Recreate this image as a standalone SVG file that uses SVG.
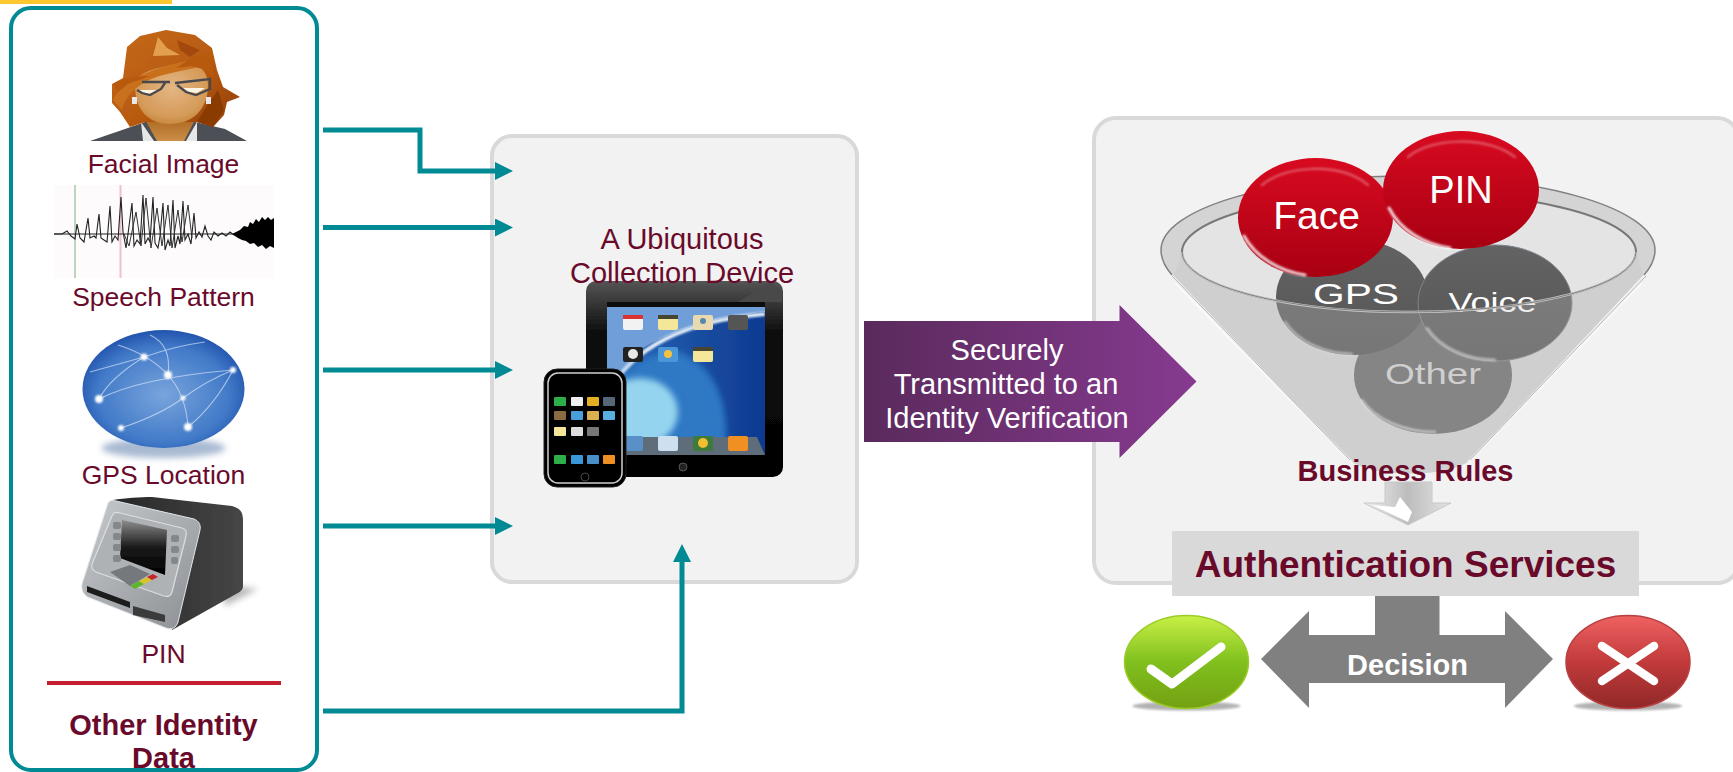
<svg xmlns="http://www.w3.org/2000/svg" width="1733" height="772" viewBox="0 0 1733 772">
<style>
text{font-family:"Liberation Sans",Arial,sans-serif;text-anchor:middle}
.m{fill:#6a0a2b;font-size:26.5px}
.b{fill:#6a0a2b;font-weight:bold;font-size:29px}
.w{fill:#fff}
.panel{fill:#f2f2f2;stroke:#d9d9d9;stroke-width:4}
.conn{fill:none;stroke:#008a93;stroke-width:5}
.soft{filter:url(#s1)}
.blur{filter:url(#s3)}
.gb{filter:url(#s15)}
.gloss{fill:none;stroke:#fff;stroke-linecap:round}
</style>
<defs>
<filter id="s1" x="-5%" y="-5%" width="110%" height="110%"><feGaussianBlur stdDeviation="0.7"/></filter>
<filter id="s15" x="-20%" y="-20%" width="140%" height="140%"><feGaussianBlur stdDeviation="1.300"/></filter>
<filter id="s3" x="-30%" y="-30%" width="160%" height="160%"><feGaussianBlur stdDeviation="3"/></filter>
<marker id="ah" markerUnits="userSpaceOnUse" markerWidth="18" markerHeight="18" refX="0" refY="9" orient="auto"><path d="M0 0L18 9L0 18Z" fill="#008a93"/></marker>
<linearGradient id="pur" x1="0" x2="1" y1="0" y2="0"><stop offset="0" stop-color="#5a2a5c"/><stop offset="1" stop-color="#873a90"/></linearGradient>
<linearGradient id="red" x1="0" x2="0" y1="0" y2="1"><stop offset="0" stop-color="#d80a20"/><stop offset="1" stop-color="#a80012"/></linearGradient>
<linearGradient id="gray" x1="0" x2="0" y1="0" y2="1"><stop offset="0" stop-color="#636363"/><stop offset="1" stop-color="#555"/></linearGradient>
<linearGradient id="grn" x1="0" x2="0" y1="0" y2="1"><stop offset="0" stop-color="#c8f045"/><stop offset=".5" stop-color="#80c01e"/><stop offset="1" stop-color="#73a012"/></linearGradient>
<linearGradient id="rd2" x1="0" x2="0" y1="0" y2="1"><stop offset="0" stop-color="#ef6262"/><stop offset=".5" stop-color="#c23a3a"/><stop offset="1" stop-color="#902828"/></linearGradient>
<linearGradient id="hair" x1="0" x2="1" y1="0" y2="1"><stop offset="0" stop-color="#c46a1c"/><stop offset=".55" stop-color="#b85a10"/><stop offset="1" stop-color="#8f3e08"/></linearGradient>
<radialGradient id="skin" cx=".5" cy=".4" r=".65"><stop offset="0" stop-color="#e4b684"/><stop offset=".75" stop-color="#d49a58"/><stop offset="1" stop-color="#c48236"/></radialGradient>
<linearGradient id="neck" x1="0" x2="0" y1="0" y2="1"><stop offset="0" stop-color="#a8641c"/><stop offset="1" stop-color="#cc8e48"/></linearGradient>
<radialGradient id="globe" cx=".5" cy=".55" r=".58"><stop offset="0" stop-color="#78a4dc"/><stop offset=".7" stop-color="#427ac8"/><stop offset=".93" stop-color="#2457b0"/><stop offset="1" stop-color="#123a90"/></radialGradient>
<linearGradient id="atmd" x1="0" x2="1" y1="0" y2="0"><stop offset="0" stop-color="#262727"/><stop offset="1" stop-color="#464646"/></linearGradient>
<linearGradient id="atmf" x1="0" x2="1" y1="0" y2="1"><stop offset="0" stop-color="#c6cacd"/><stop offset="1" stop-color="#8c9094"/></linearGradient>
<linearGradient id="scr" x1="0" x2="0" y1="0" y2="1"><stop offset="0" stop-color="#8d8d8d"/><stop offset=".5" stop-color="#1a1a1a"/><stop offset="1" stop-color="#000"/></linearGradient>
<linearGradient id="ipad" x1="0" x2="0" y1="0" y2="1"><stop offset="0" stop-color="#555"/><stop offset=".25" stop-color="#111"/><stop offset="1" stop-color="#000"/></linearGradient>
<linearGradient id="sea" x1="0" x2="1" y1="0" y2="0"><stop offset="0" stop-color="#2a68b8"/><stop offset="1" stop-color="#0c3a90"/></linearGradient>
<linearGradient id="dn" x1="0" x2="1" y1="0" y2="0"><stop offset="0" stop-color="#f0f0f0"/><stop offset=".5" stop-color="#bdbdbd"/><stop offset="1" stop-color="#e4e4e4"/></linearGradient>
<clipPath id="clipScr"><rect x="607" y="302" width="158" height="153"/></clipPath>
</defs>

<rect id="topbar" x="0" y="0" width="172" height="4" fill="#fdc82f"/>

<g id="source-panel">
<rect x="11" y="8" width="306" height="762" rx="20" fill="#fff" stroke="#008a93" stroke-width="4"/>
</g>

<g id="collection-panel">
<rect class="panel" x="492" y="136" width="365" height="446" rx="20"/>
</g>
<g id="verification-panel">
<rect class="panel" x="1094" y="118" width="645" height="465" rx="22"/>
</g>

<g id="connectors">
<path class="conn" marker-end="url(#ah)" d="M323 130H420V171H495"/>
<path class="conn" marker-end="url(#ah)" d="M323 227.500H495"/>
<path class="conn" marker-end="url(#ah)" d="M323 370H495"/>
<path class="conn" marker-end="url(#ah)" d="M323 526H495"/>
<path class="conn" marker-end="url(#ah)" d="M323 711H682V562"/>
</g>

<g id="facial-image">
<g class="soft">
<path d="M90 141L125 129L145 122H195L225 129L247 141Z" fill="#4d5056"/>
<path d="M141 122L154 141H143ZM197 122L186 141H197Z" fill="#e6e6e6"/>
<path d="M143 116H197L184 141H157Z" fill="url(#neck)"/>
<path d="M127 47L140 36L166 30L195 35L212 48L217 70L223 87L240 97L227 102L224 115L213 127L197 122H145L130 127L120 112L112 103V84L123 78Z" fill="url(#hair)"/>
<path d="M135 85C135 112 150 124 170 124C192 124 208 110 208 85C208 72 200 64 188 64C170 64 135 70 135 85Z" fill="url(#skin)"/>
<path d="M113 100C120 84 150 66 194 60L204 66C176 72 152 76 142 84C130 92 124 100 122 110Z" fill="#c9701f"/>
<path d="M113 84C122 78 136 76 150 76L128 84L118 92Z" fill="#b85a10"/>
<path d="M158 37L167 48L180 55L153 56Z" fill="#e2a050"/>
<path d="M177 40L200 50L190 57L180 50Z" fill="#a34a08"/>
<path d="M176 68L196 55L210 58L214 78L206 70L192 66Z" fill="#b85a10"/>
<path d="M197 122L208 104L218 90L224 110L213 127Z" fill="#8a3a06"/>
<path d="M139 90H160L151 94L143 93ZM183 88H205L197 93L189 92Z" fill="#fbf3e4"/>
<path d="M142 82H170M175 83L210 79V89L196 95L186 92L177 85M165 83L161 89L150 95L142 93L137 90" fill="none" stroke="#4a4a4e" stroke-width="2.300"/>
<rect x="132" y="97" width="5" height="7" fill="#e8e8e8"/><rect x="206" y="97" width="5" height="7" fill="#e8e8e8"/>
</g>
<text class="m" x="163.500" y="173">Facial Image</text>
</g>

<g id="speech-pattern">
<rect x="54" y="185" width="220" height="93" fill="#fdfbfb"/>
<path d="M75 185V278" stroke="#a8c8a8" stroke-width="1.500"/>
<path d="M120.500 185V278" stroke="#f0c0cc" stroke-width="2"/>
<g>
<path fill="none" stroke="#222" stroke-width="1.100" d="M54 234L62 234L67 231L71 236L75 239L77 224L80 238L84 242L88 218L90 238L94 236L96 238L99 214L101 238L104 240L107 242L110 206L112 242L115 236L118 240L121 197L123 232L126 248L128 234L132 203L134 246L137 240L140 244L143 195L145 244L148 238L150 242L153 197L155 243L158 248L160 236L163 203L165 250L168 240L170 246L173 200L175 248L178 236L180 244L183 201L185 240L188 234L191 244L194 213L196 238L199 232L202 237L205 226L208 236L211 240L214 232L218 236L222 233L226 236L230 232L234 235"/>
<path fill="none" stroke="#333" stroke-width="1" d="M124 234L129 246L136 212L141 246L146 198L151 248L157 208L162 246L168 205L172 248L178 210L182 242L188 205L192 238"/>
<path d="M54 234H232" stroke="#222" stroke-width="1.200"/>
<path fill="#000" d="M232 234L240 230L244 226L248 227L250 222L253 224L256 219L259 222L262 217L265 220L268 217L271 220L274 218V248L270 246L266 249L262 245L258 247L254 243L250 244L246 241L242 240L238 238Z"/>
</g>
<text class="m" x="163.500" y="306">Speech Pattern</text>
</g>

<g id="gps-location">
<ellipse cx="163.500" cy="448" rx="62" ry="10" fill="#a8bad2" class="blur"/>
<ellipse cx="163.500" cy="389" rx="81" ry="59" fill="url(#globe)" class="soft"/>
<g fill="none" stroke="#dbe8f8" stroke-width="1.100" opacity=".65">
<path d="M118 345Q150 355 168 375T188 427"/>
<path d="M144 357Q110 378 99 399"/>
<path d="M205 342Q175 346 144 357L90 372"/>
<path d="M99 399Q140 378 233 370"/>
<path d="M121 428Q160 415 183 398T233 370"/>
<path d="M168 375Q172 345 150 335"/>
<path d="M188 427Q215 405 233 370"/>
</g>
<g fill="#fff" class="gb">
<circle cx="144" cy="357" r="3.500"/><circle cx="168" cy="375" r="4"/><circle cx="233" cy="370" r="3"/><circle cx="99" cy="399" r="4"/><circle cx="188" cy="427" r="4"/><circle cx="121" cy="428" r="3"/><circle cx="183" cy="398" r="2.500"/>
</g>
<text class="m" x="163.500" y="484">GPS Location</text>
</g>

<g id="pin-terminal">
<path d="M222 585L258 589L225 606Z" fill="#888" opacity=".6" class="blur"/>
<g class="soft">
<path d="M113 500C125 498 140 497 152 497L232 506C240 508 243 512 243 520V586C243 590 240 592 236 594L172 630L160 560Z" fill="url(#atmd)"/>
<path d="M108 503C110 500 113 500 116 501L194 519C199 521 201 525 200 530L178 622C176 628 172 630 166 628L90 598C84 596 81 590 82 584Z" fill="url(#atmf)" stroke="#e2e4e6" stroke-width="1"/>
<path d="M112 516C114 512 116 512 120 513L182 528C186 529 187 532 186 536L172 592C171 596 168 597 164 596L96 572C92 570 91 568 92 564Z" fill="#aeb2b5" stroke="#dcdee0" stroke-width="1.200"/>
<path d="M122 520L167 530L165 575L120 558Z" fill="url(#scr)"/>
<g fill="#85888b"><rect x="113" y="522" width="8" height="7" rx="2"/><rect x="113" y="533" width="8" height="7" rx="2"/><rect x="113" y="544" width="8" height="7" rx="2"/><rect x="113" y="555" width="8" height="7" rx="2"/><rect x="171" y="535" width="8" height="7" rx="2"/><rect x="171" y="546" width="8" height="7" rx="2"/><rect x="171" y="557" width="7" height="7" rx="2"/></g>
<path d="M110 572L130 565L150 574L130 586Z" fill="#74787c"/>
<path d="M130 586L139 581L144 584L135 589Z" fill="#5fb52c"/>
<path d="M139 581L147 577L152 580L144 584Z" fill="#d8c42c"/>
<path d="M147 577L153 574L158 577L152 580Z" fill="#c8262c"/>
<path d="M87 586L130 602V608L87 592Z" fill="#1e1e1e"/>
<path d="M133 606L165 615V622L133 615Z" fill="#3a3a3a"/>
</g>
<text class="m" x="163.500" y="663">PIN</text>
</g>
<path id="pin-divider" d="M47 683H281" stroke="#c41f2f" stroke-width="4"/>
<g id="other-identity-data">
<text class="b" x="163.500" y="735">Other Identity</text>
<text class="b" x="163.500" y="768">Data</text>
</g>

<g id="collection-device">
<g class="soft">
<rect x="586" y="281" width="197" height="196" rx="10" fill="url(#ipad)"/>
<path d="M738 302L770 282L782 292V302Z" fill="#4a4a4a"/>
<g clip-path="url(#clipScr)">
<rect x="607" y="302" width="158" height="153" fill="url(#sea)"/>
<path d="M607 306H765V312C720 316 670 330 640 350C625 365 615 385 607 398Z" fill="#6f9ed8"/>
<path d="M607 398C630 345 690 320 765 314" fill="none" stroke="#e4eff9" stroke-width="4" class="gb"/>
<path d="M607 400C625 365 650 350 680 352C720 370 730 410 725 455H607Z" fill="#2f78c4" class="blur"/>
<ellipse cx="640" cy="412" rx="38" ry="34" fill="#95d4ef" class="blur"/>
<path d="M620 437H757L765 455H607Z" fill="#5e6c7a"/>
<rect x="607" y="302" width="158" height="5" fill="#111"/>
</g>
<g id="ipad-icons">
<rect x="623" y="315" width="20" height="15" rx="2" fill="#f2f2f2"/><rect x="623" y="315" width="20" height="4" fill="#d33"/>
<rect x="658" y="315" width="20" height="15" rx="2" fill="#f4e79a"/><rect x="658" y="315" width="20" height="4" fill="#443"/>
<rect x="693" y="315" width="20" height="15" rx="2" fill="#e9d9b0"/><circle cx="703" cy="321" r="3" fill="#58a"/>
<rect x="728" y="315" width="20" height="15" rx="2" fill="#555"/>
<rect x="623" y="347" width="20" height="15" rx="2" fill="#222"/><circle cx="633" cy="354" r="5" fill="#e8e8e8"/>
<rect x="658" y="347" width="20" height="15" rx="2" fill="#4a96d8"/><circle cx="668" cy="354" r="4" fill="#f4c040"/>
<rect x="693" y="347" width="20" height="15" rx="2" fill="#f4e79a"/><rect x="693" y="347" width="20" height="4" fill="#443"/>
<rect x="623" y="436" width="20" height="15" rx="2" fill="#5a90c8"/>
<rect x="658" y="436" width="20" height="15" rx="2" fill="#cde0f0"/>
<rect x="693" y="436" width="20" height="15" rx="2" fill="#3e7a3a"/><circle cx="703" cy="443" r="5" fill="#f0c030"/>
<rect x="728" y="436" width="20" height="15" rx="2" fill="#f09020"/>
</g>
<circle cx="683" cy="467" r="4" fill="#222" stroke="#555"/>
<rect x="544" y="369" width="82" height="118" rx="13" fill="#000" stroke="#222"/>
<rect x="548" y="373" width="74" height="110" rx="10" fill="#000" stroke="#cfcfcf" stroke-width="1.500"/>
<g>
<rect x="554" y="397" width="12" height="9" rx="1" fill="#2fae4a"/><rect x="571" y="397" width="12" height="9" rx="1" fill="#eee"/><rect x="587" y="397" width="12" height="9" rx="1" fill="#e2b020"/><rect x="603" y="397" width="12" height="9" rx="1" fill="#567"/>
<rect x="554" y="411" width="12" height="9" rx="1" fill="#8a6a40"/><rect x="571" y="411" width="12" height="9" rx="1" fill="#4aa0d8"/><rect x="587" y="411" width="12" height="9" rx="1" fill="#d8b050"/><rect x="603" y="411" width="12" height="9" rx="1" fill="#58b0e0"/>
<rect x="554" y="427" width="12" height="9" rx="1" fill="#f4e79a"/><rect x="571" y="427" width="12" height="9" rx="1" fill="#ddd"/><rect x="587" y="427" width="12" height="9" rx="1" fill="#777"/>
<rect x="554" y="455" width="12" height="9" rx="1" fill="#2fae4a"/><rect x="571" y="455" width="12" height="9" rx="1" fill="#3a98d8"/><rect x="587" y="455" width="12" height="9" rx="1" fill="#4a90c8"/><rect x="603" y="455" width="12" height="9" rx="1" fill="#f09020"/>
</g>
<circle cx="585" cy="477" r="4" fill="#000" stroke="#444"/>
</g>
<text class="m" x="682" y="249" style="font-size:29px">A Ubiquitous</text>
<text class="m" x="682" y="283" style="font-size:29px">Collection Device</text>
</g>

<g id="transmit-arrow">
<path d="M864 321H1119.500V305L1196.500 381.500L1119.500 458V442H864Z" fill="url(#pur)"/>
<text class="w" style="font-size:29px" x="1007" y="360">Securely</text>
<text class="w" style="font-size:29px" x="1006" y="394">Transmitted to an</text>
<text class="w" style="font-size:29px" x="1007" y="428">Identity Verification</text>
</g>

<g id="funnel">
<path d="M1161 250C1161 209 1272 176 1408 176S1655 209 1655 250C1655 258 1652 265 1646 272L1470 460C1450 478 1370 478 1350 460L1170 272C1164 265 1161 258 1161 250Z" fill="#d4d4d4"/>
<path d="M1172 275C1164 266 1161 258 1161 250C1161 209 1272 176 1408 176S1655 209 1655 250C1655 258 1652 266 1644 275" fill="none" stroke="#808080" stroke-width="1.500"/>
<path d="M1175 283L1352 462M1642 283L1468 462" fill="none" stroke="#f8f8f8" stroke-width="2.500" class="soft"/>
<path d="M1172 276L1350 460M1646 276L1470 460" fill="none" stroke="#b4b4b4" stroke-width="1"/>
<ellipse cx="1409" cy="252" rx="227" ry="60" fill="#e4e4e4" stroke="#777" stroke-width="2"/>
<ellipse cx="1433" cy="375" rx="79" ry="59" fill="#6a6a6a"/>
<path class="gloss gb" stroke-width="2.500" opacity=".6" d="M1362 400C1375 420 1405 432 1435 432"/>
<text style="font-size:29px" fill="#d4d4d4" x="1433" y="384" textLength="96" lengthAdjust="spacingAndGlyphs">Other</text>
<ellipse cx="1352" cy="297" rx="76" ry="58" fill="url(#gray)"/>
<path class="gloss gb" stroke-width="2.500" opacity=".55" d="M1285 322C1298 342 1325 354 1352 354"/>
<text class="w" style="font-size:30px" x="1356" y="304" textLength="86" lengthAdjust="spacingAndGlyphs">GPS</text>
<ellipse cx="1495" cy="303" rx="77" ry="58" fill="url(#gray)" stroke="#7d858c" stroke-width="1"/>
<path class="gloss gb" stroke-width="2.500" opacity=".6" d="M1427 328C1440 348 1467 360 1495 360"/>
<text class="w" style="font-size:28px" x="1492.500" y="312" textLength="88" lengthAdjust="spacingAndGlyphs">Voice</text>
<path id="funnel-front" d="M1182 252A227 60 0 0 0 1636 252L1643 276L1470 460C1450 478 1370 478 1350 460L1174 276Z" fill="#c4c4c4" opacity=".3"/>
<path d="M1182 252A227 60 0 0 0 1636 252" fill="none" stroke="#c8c8c8" stroke-width="2.500"/>
<path d="M1182 252A227 60 0 0 0 1636 252" fill="none" stroke="#808080" stroke-width="1"/>
</g>

<g id="token-face">
<ellipse cx="1315.500" cy="217.500" rx="77.500" ry="59.500" fill="url(#red)"/>
<path class="gloss gb" stroke-width="3" opacity=".85" d="M1244 236C1255 256 1278 271 1305 275"/>
<path class="gloss gb" stroke-width="2.500" opacity=".3" d="M1262 185C1285 165 1340 162 1368 185"/>
<text class="w" style="font-size:39px" x="1316.500" y="229">Face</text>
</g>
<g id="token-pin">
<ellipse cx="1461" cy="190" rx="78" ry="59" fill="url(#red)"/>
<path class="gloss gb" stroke-width="3" opacity=".85" d="M1389 208C1400 230 1425 245 1450 248"/>
<path class="gloss gb" stroke-width="2.500" opacity=".3" d="M1408 157C1430 138 1485 135 1515 157"/>
<text class="w" style="font-size:38px" x="1461" y="203">PIN</text>
</g>

<g id="business-rules">
<path d="M1385 482H1432V503H1451L1408 525L1364 503H1385Z" fill="url(#dn)" stroke="#c8c8c8" stroke-width="1" class="soft"/>
<path d="M1372 505L1395 507L1400 497L1412 512L1408 522Z" fill="#fff" class="soft"/>
<text class="b" x="1405.500" y="480.500">Business Rules</text>
</g>

<g id="authentication-services">
<rect x="1172" y="531" width="467" height="65" fill="#d9d9d9"/>
<text class="b" style="font-size:37px" x="1405.500" y="577">Authentication Services</text>
</g>

<g id="decision">
<path d="M1375 596H1439.500V635H1505V611L1553 659L1505 708V683H1309V708L1261 659L1309 611V635H1375Z" fill="#808080"/>
<text class="w" style="font-size:29px;font-weight:bold" x="1407.500" y="675">Decision</text>
</g>

<g id="approved">
<ellipse cx="1186.500" cy="706" rx="54" ry="4.500" fill="#999" opacity=".75" class="gb"/>
<ellipse cx="1186.500" cy="662" rx="62" ry="46.500" fill="url(#grn)" stroke="#9ccc2a" stroke-width="1.500"/>
<path d="M1151 669L1172 684L1221 647" fill="none" stroke="#fff" stroke-width="9" stroke-linecap="round" stroke-linejoin="round"/>
</g>
<g id="rejected">
<ellipse cx="1628" cy="706" rx="54" ry="4.500" fill="#999" opacity=".75" class="gb"/>
<ellipse cx="1628" cy="662" rx="62" ry="46.500" fill="url(#rd2)" stroke="#b84040" stroke-width="1.500"/>
<path d="M1602 646L1654 681M1654 646L1602 681" fill="none" stroke="#fff" stroke-width="8.500" stroke-linecap="round"/>
</g>
</svg>
